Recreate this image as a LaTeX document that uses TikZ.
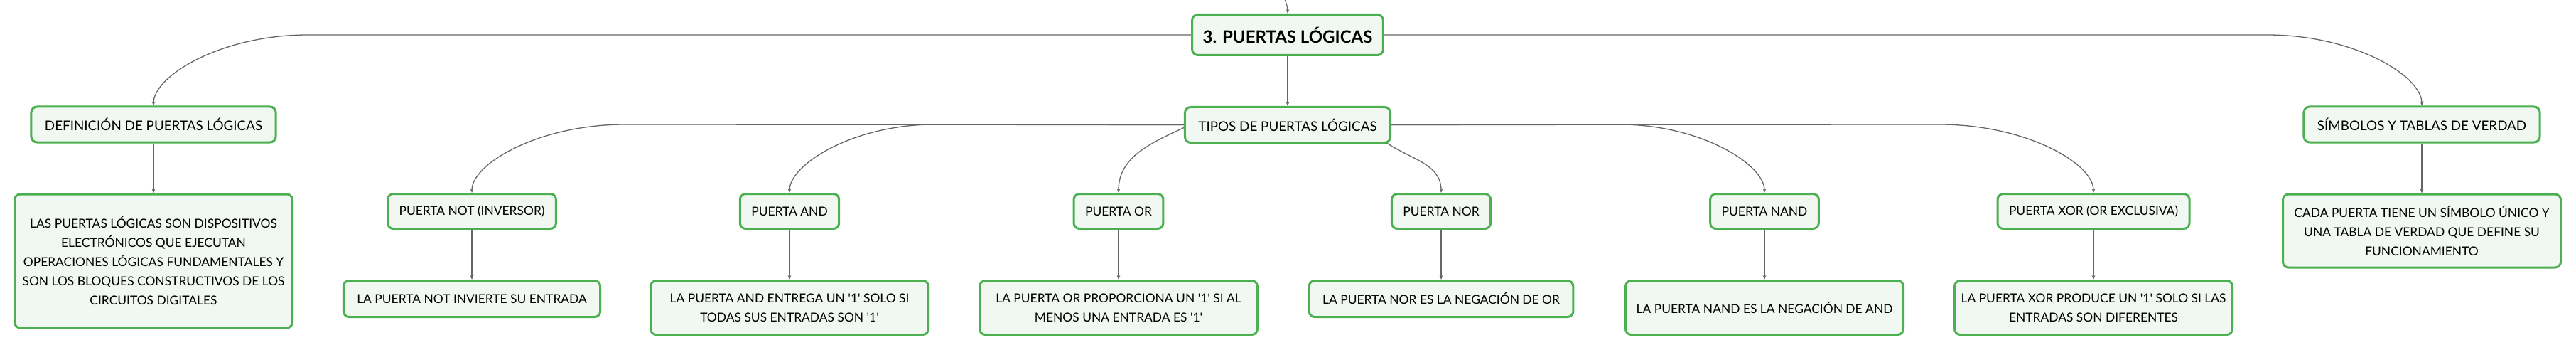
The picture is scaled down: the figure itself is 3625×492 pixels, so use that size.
\documentclass[tikz,border=0pt]{standalone}
\usepackage{fontspec}
\setmainfont{Lato}
\usetikzlibrary{arrows.meta}
\usetikzlibrary{positioning}
\usetikzlibrary{calc, backgrounds}

\definecolor{mapgreen}{HTML}{4CAF50}
\definecolor{mapfill}{HTML}{F1F8F2}
\definecolor{mapline}{HTML}{666666}

\begin{document}
\begin{tikzpicture}[x=0.5pt,y=0.5pt,>={Stealth[length=3pt,width=2.4pt]},node distance=35pt,semithick]
 \tikzstyle{box}=[rectangle,rounded corners=4pt,draw=mapgreen,line width=1.5pt,fill=mapfill,text=black]
 \tikzset{
 	root node/.style={box,font=\fontsize{12}{14}\selectfont\bfseries,minimum height=28.5pt,inner xsep=7.5pt},
 	topic node/.style={box,font=\fontsize{9.4}{11}\selectfont,minimum height=25pt,inner xsep=9.5pt},
 	gate node/.style={box,font=\fontsize{8.7}{10.5}\selectfont,minimum height=24.5pt,inner xsep=8pt},
 	desc node/.style={box,font=\fontsize{8.7}{13.5}\selectfont,align=center,minimum height=25.5pt,inner xsep=9.5pt},
 	wide node/.style={desc node,minimum width=195.5pt,inner xsep=3pt},
 	link/.style={draw=mapline,line width=0.65pt,->},
 	left branch/.style={out=180,in=90,out looseness=1.3,in looseness=0.45},
 	right branch/.style={out=0,in=90,out looseness=1.3,in looseness=0.45}
 }
 \useasboundingbox (0,0) rectangle (3625,-492);

       \node[root node] (root) at (1812,-49) {3. PUERTAS LÓGICAS};
       \node[topic node] (tipos) [below=of root] {TIPOS DE PUERTAS LÓGICAS};
       \node[topic node] (def) at (216,-175) {DEFINICIÓN DE PUERTAS LÓGICAS};
       \node[topic node] (simb) at (3408,-175) {SÍMBOLOS Y TABLAS DE VERDAD};

       \node[wide node,minimum height=94pt] (defd) [below=of def] {LAS PUERTAS LÓGICAS SON DISPOSITIVOS\\ ELECTRÓNICOS QUE EJECUTAN\\ OPERACIONES LÓGICAS FUNDAMENTALES Y\\ SON LOS BLOQUES CONSTRUCTIVOS DE LOS\\ CIRCUITOS DIGITALES};
       \node[wide node,minimum height=51.5pt] (simbd) [below=of simb] {CADA PUERTA TIENE UN SÍMBOLO ÚNICO Y\\ UNA TABLA DE VERDAD QUE DEFINE SU\\ FUNCIONAMIENTO};

       \node[gate node] (not) at (664,-297) {PUERTA NOT (INVERSOR)};
       \node[gate node] (and) at (1111,-297) {PUERTA AND};
       \node[gate node] (or) at (1574,-297) {PUERTA OR};
       \node[gate node] (nor) at (2028,-297) {PUERTA NOR};
       \node[gate node] (nand) at (2483,-297) {PUERTA NAND};
       \node[gate node] (xor) at (2946,-297) {PUERTA XOR (OR EXCLUSIVA)};

       \node[desc node] (notd) [below=of not] {LA PUERTA NOT INVIERTE SU ENTRADA};
       \node[wide node,minimum height=38pt] (andd) [below=of and] {LA PUERTA AND ENTREGA UN \textquotesingle 1\textquotesingle{} SOLO SI\\ TODAS SUS ENTRADAS SON \textquotesingle 1\textquotesingle};
       \node[wide node,minimum height=38pt] (ord) [below=of or] {LA PUERTA OR PROPORCIONA UN \textquotesingle 1\textquotesingle{} SI AL\\ MENOS UNA ENTRADA ES \textquotesingle 1\textquotesingle};
       \node[desc node] (nord) [below=of nor] {LA PUERTA NOR ES LA NEGACIÓN DE OR};
       \node[wide node,minimum height=38pt] (nandd) [below=of nand] {LA PUERTA NAND ES LA NEGACIÓN DE AND};
       \node[wide node,minimum height=38pt] (xord) [below=of xor] {LA PUERTA XOR PRODUCE UN \textquotesingle 1\textquotesingle{} SOLO SI LAS\\ ENTRADAS SON DIFERENTES};

 \begin{scope}[on background layer]
       \coordinate (up) at (1806,10);
       \coordinate (kdef) at (433,-49);
       \coordinate (ksimb) at (3191,-49);
       \coordinate (knot) at (879,-175);
       \coordinate (kand) at (1315,-175);
       \coordinate (knand) at (2279,-175);
       \coordinate (kxor) at (2730,-175);

     \draw[link]  (up) to[out=-80,in=90] (root.north);
     \draw[link]  (root.west) -- (kdef) to[left branch] (def.north);
     \draw[link]  (root.east) -- (ksimb) to[right branch] (simb.north);
     \path[link]  (root) edge (tipos);

     \draw[link]  (tipos.west) -- (knot) to[left branch] (not.north);
     \draw[link]  (tipos.west) -- (kand) to[left branch] (and.north);
     \draw[link]  ($(tipos.west)+(0,-4)$) to[out=205,in=90] (or.north);
     \draw[link]  ($(tipos.south east)+(-8,2)$) to[out=-35,in=90] (nor.north);
     \draw[link]  (tipos.east) -- (knand) to[right branch] (nand.north);
     \draw[link]  (tipos.east) -- (kxor) to[right branch] (xor.north);

     \path[link]  (def) edge (defd);
     \path[link]  (simb) edge (simbd);
     \path[link]  (not) edge (notd);
     \path[link]  (and) edge (andd);
     \path[link]  (or) edge (ord);
     \path[link]  (nor) edge (nord);
     \path[link]  (nand) edge (nandd);
     \path[link]  (xor) edge (xord);
 \end{scope}
\end{tikzpicture}
\end{document}
